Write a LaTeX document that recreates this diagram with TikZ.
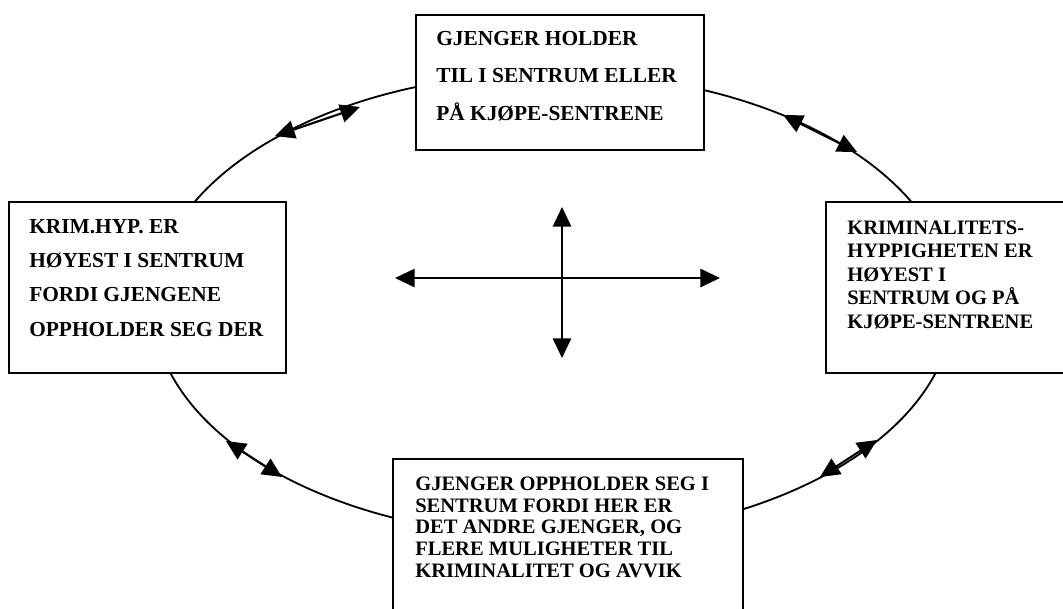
\documentclass[tikz,border=0pt]{standalone}
\usepackage{fontspec}
\setmainfont{Liberation Serif}
\usetikzlibrary{arrows.meta,fit}
\begin{document}
\begin{tikzpicture}[x=0.025cm,y=-0.025cm,
  box/.style={draw, line width=1.3pt, fill=white, inner sep=0pt},
  boxtext/.style={anchor=north west, inner sep=0pt, align=left, font=\bfseries},
  dbl/.style={line width=1.5pt, {Triangle[length=14pt,width=13pt]}-{Triangle[length=14pt,width=13pt]}},
  ring/.style={line width=1.3pt}]
\useasboundingbox (0,0) rectangle (1063,608);
% cycle ellipse
\draw[ring] (553,305) ellipse [x radius=400, y radius=232];
% arrows along the ellipse
\coordinate (ulA) at (275,136); \coordinate (ulB) at (360,107);
\coordinate (urA) at (783,115); \coordinate (urB) at (857,152);
\coordinate (llA) at (226,441); \coordinate (llB) at (282,477);
\coordinate (lrA) at (877,440); \coordinate (lrB) at (820,477);
\draw[dbl] (ulA) -- (ulB);
\draw[dbl] (urA) -- (urB);
\draw[dbl] (llA) -- (llB);
\draw[dbl] (lrA) -- (lrB);
% boxes
\node[box, fit={(416,15) (704,150)}] (topbox) {};
\node[box, fit={(9,202) (286,373)}] (leftbox) {};
\node[box, fit={(826,202) (1068,373)}] (rightbox) {};
\node[box, fit={(393,459) (743,620)}] (botbox) {};
% texts
\node[boxtext, font=\bfseries\fontsize{15.2}{26.7}\selectfont] (toptext) at (436,31)
  {GJENGER HOLDER\\TIL I SENTRUM ELLER\\PÅ KJØPE-SENTRENE};
\node[boxtext, font=\bfseries\fontsize{15.2}{24.4}\selectfont] (lefttext) at (29,219)
  {KRIM.HYP. ER\\HØYEST I SENTRUM\\FORDI GJENGENE\\OPPHOLDER SEG DER};
\node[boxtext, font=\bfseries\fontsize{14.6}{16.7}\selectfont] (righttext) at (847,220.5)
  {KRIMINALITETS-\\HYPPIGHETEN ER\\HØYEST I\\SENTRUM OG PÅ\\KJØPE-SENTRENE};
\node[boxtext, font=\bfseries\fontsize{14.6}{15.5}\selectfont] (bottext) at (415,476.5)
  {GJENGER OPPHOLDER SEG I\\SENTRUM FORDI HER ER\\DET ANDRE GJENGER, OG\\FLERE MULIGHETER TIL\\KRIMINALITET OG AVVIK};
% central cross
\coordinate (cL) at (395,278); \coordinate (cR) at (720,278);
\coordinate (cT) at (562,207); \coordinate (cB) at (562,358);
\draw[dbl] (cL) -- (cR);
\draw[dbl] (cT) -- (cB);
\end{tikzpicture}
\end{document}
